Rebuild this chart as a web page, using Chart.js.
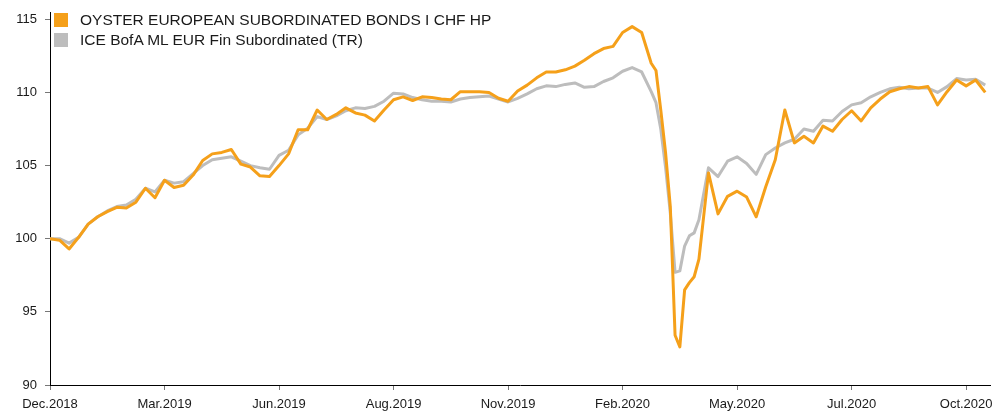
<!DOCTYPE html>
<html>
<head>
<meta charset="utf-8">
<script src="https://cdn.jsdelivr.net/npm/chart.js@4.4.0/dist/chart.umd.min.js"></script>
<style>
    html, body { margin: 0; padding: 0; background: #fff; }
    #wrap { position: relative; width: 1008px; height: 415px; }
    #legend {
        position: absolute; left: 54px; top: 10px;
        font-family: 'Liberation Sans', Arial, Helvetica, sans-serif;
        font-size: 15.5px; color: #1a1a1a;
    }
    .row { display: flex; align-items: center; height: 20px; }
    .box { width: 14px; height: 14px; margin-right: 12px; }
</style>
</head>
<body>
<div id="wrap">
    <canvas id="chart" width="1008" height="415"></canvas>
    <div id="legend"></div>
</div>
<script>
// x axis labels, one every 12 weeks
const tickLabels = ['Dec.2018', 'Mar.2019', 'Jun.2019', 'Aug.2019', 'Nov.2019',
    'Feb.2020', 'May.2020', 'Jul.2020', 'Oct.2020'];

// weeks since start (extra half-week points around the March 2020 drop)
const weeks = [
    0, 1, 2, 3, 4, 5, 6, 7, 8, 9, 10, 11, 12, 13, 14, 15, 16, 17, 18, 19,
    20, 21, 22, 23, 24, 25, 26, 27, 28, 29, 30, 31, 32, 33, 34, 35, 36, 37, 38, 39,
    40, 41, 42, 43, 44, 45, 46, 47, 48, 49, 50, 51, 52, 53, 54, 55, 56, 57, 58, 59,
    60, 61, 62, 63, 63.5, 64, 64.5, 65, 65.5, 66, 66.5, 67, 67.5, 68, 69,
    70, 71, 72, 73, 74, 75, 76, 77, 78, 79, 80, 81, 82, 83, 84, 85, 86, 87, 88, 89,
    90, 91, 92, 93, 94, 95, 96, 97, 98
];

const fundName = 'OYSTER EUROPEAN SUBORDINATED BONDS I CHF HP';
const fundValues = [
    100.0, 99.9, 99.3, 100.1, 101.0, 101.5, 101.85, 102.15, 102.1, 102.5,
    103.45, 102.8, 104.0, 103.5, 103.65, 104.35, 105.35, 105.8, 105.9, 106.1,
    105.1, 104.9, 104.3, 104.25, 105.0, 105.8, 107.45, 107.45, 108.8, 108.15,
    108.5, 108.95, 108.6, 108.45, 108.05, 108.8, 109.5, 109.7, 109.45, 109.7,
    109.65, 109.55, 109.5, 110.05, 110.05, 110.05, 110.0, 109.6, 109.4, 110.1,
    110.5, 111.0, 111.4, 111.4, 111.55, 111.8, 112.2, 112.65, 113.0, 113.15,
    114.1, 114.5, 114.1, 112.0, 111.5, 108.8, 105.9, 102.2, 93.4, 92.6,
    96.5, 97.0, 97.4, 98.6, 104.5,
    101.7, 102.9, 103.25, 102.85, 101.5, 103.55, 105.4, 108.8, 106.55, 107.0,
    106.55, 107.7, 107.35, 108.15, 108.75, 108.05, 108.95, 109.55, 110.05, 110.25,
    110.4, 110.3, 110.4, 109.15, 110.05, 110.85, 110.45, 110.85, 110.0
];

const indexName = 'ICE BofA ML EUR Fin Subordinated (TR)';
const indexValues = [
    100.0, 100.0, 99.7, 100.1, 101.0, 101.5, 101.9, 102.2, 102.3, 102.7,
    103.45, 103.2, 104.0, 103.8, 103.9, 104.45, 105.0, 105.4, 105.5, 105.6,
    105.3, 105.0, 104.85, 104.75, 105.7, 106.05, 107.1, 107.55, 108.35, 108.15,
    108.4, 108.75, 108.95, 108.9, 109.05, 109.4, 109.95, 109.9, 109.65, 109.5,
    109.4, 109.4, 109.35, 109.55, 109.65, 109.7, 109.75, 109.55, 109.35, 109.6,
    109.9, 110.25, 110.45, 110.4, 110.55, 110.65, 110.35, 110.4, 110.75, 111.0,
    111.45, 111.7, 111.4, 110.05, 109.3, 107.5, 104.9, 101.75, 97.7, 97.8,
    99.5, 100.2, 100.4, 101.3, 104.85,
    104.25, 105.3, 105.6, 105.15, 104.4, 105.75, 106.2, 106.55, 106.8, 107.5,
    107.35, 108.1, 108.05, 108.7, 109.15, 109.3, 109.7, 110.0, 110.25, 110.35,
    110.25, 110.3, 110.3, 110.0, 110.4, 110.95, 110.85, 110.9, 110.5
];

const yTicks = [90, 95, 100, 105, 110, 115];

const colors = { fund: '#F5A01A', index: '#BDBDBD', axis: '#000', tick: '#777', text: '#1a1a1a' };
const fontFamily = "'Liberation Sans', Arial, Helvetica, sans-serif";

function toPoints(values) {
    return values.map((v, i) => ({ x: weeks[i], y: v }));
}

// html legend in the top left corner of the plot
const legendEl = document.getElementById('legend');
[[fundName, colors.fund], [indexName, colors.index]].forEach(([name, c]) => {
    const row = document.createElement('div');
    row.className = 'row';
    row.innerHTML = '<span class="box" style="background:' + c + '"></span><span>' + name + '</span>';
    legendEl.appendChild(row);
});

new Chart(document.getElementById('chart'), {
    type: 'line',
    data: {
        datasets: [
            { label: fundName, data: toPoints(fundValues), borderColor: colors.fund, borderWidth: 3 },
            { label: indexName, data: toPoints(indexValues), borderColor: colors.index, borderWidth: 3 }
        ]
    },
    options: {
        responsive: false,
        animation: false,
        devicePixelRatio: 1,
        layout: { padding: { top: 12, right: 18, left: 0, bottom: 0 } },
        elements: { point: { radius: 0 }, line: { tension: 0, borderJoinStyle: 'round' } },
        plugins: { legend: { display: false }, tooltip: { enabled: false } },
        scales: {
            x: {
                type: 'linear',
                min: 0,
                max: 98.5,
                border: { color: colors.axis, width: 1 },
                grid: { drawOnChartArea: false, tickLength: 5, tickColor: colors.tick },
                afterBuildTicks: s => { s.ticks = tickLabels.map((_, k) => ({ value: k * 12 })); },
                afterFit: s => { s.height = 30; },
                ticks: {
                    autoSkip: false,
                    maxRotation: 0,
                    padding: 7,
                    color: colors.text,
                    font: { family: fontFamily, size: 13 },
                    callback: v => tickLabels[Math.round(v / 12)]
                }
            },
            y: {
                min: 90,
                max: 115.5,
                border: { color: colors.axis, width: 1 },
                grid: { drawOnChartArea: false, tickLength: 5, tickColor: colors.tick },
                afterBuildTicks: s => { s.ticks = yTicks.map(v => ({ value: v })); },
                // the top label sits inside the area, no extra room needed for it
                afterFit: s => { s.width = 50; s.paddingTop = 0; s.paddingBottom = 0; },
                ticks: {
                    padding: 8,
                    color: colors.text,
                    font: { family: fontFamily, size: 13 }
                }
            }
        }
    }
});
</script>
</body>
</html>
